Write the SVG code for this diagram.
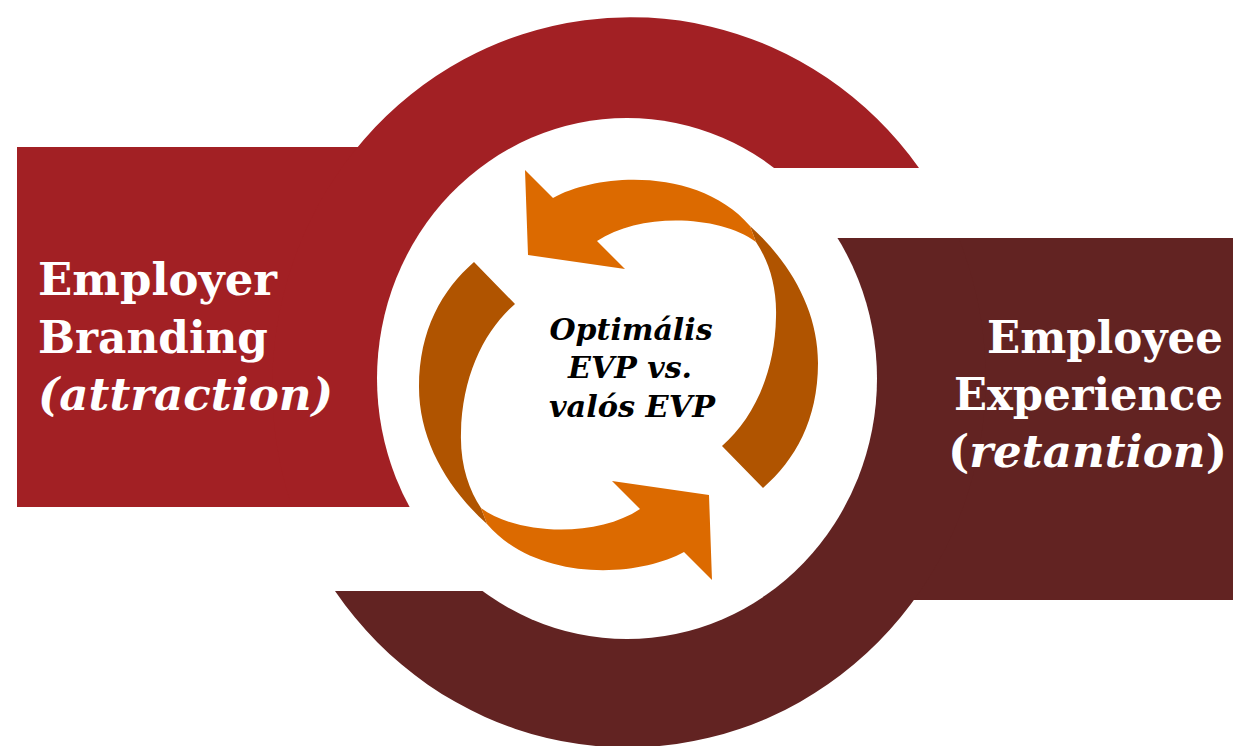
<svg xmlns="http://www.w3.org/2000/svg" width="1233" height="746" viewBox="0 0 1233 746">
<style>
.red{fill:#A22024}
.dark{fill:#622322}
.lbl{font-family:"DejaVu Serif","Liberation Serif",serif;font-weight:bold;fill:#ffffff;font-size:45px}
.ctr{font-family:"DejaVu Serif","Liberation Serif",serif;font-weight:bold;font-style:italic;fill:#000000;font-size:30px}
.it{font-style:italic}
.light{fill:#DC6A00}
.shade{fill:#B05400}
</style>
<defs>
<g id="arrow">
<path class="shade" d="M750,226 C790,262 818,310 818,363 C818,420 795,460 763,488 L722,446 C752,420 775,375 776,317 C777,285 768,260 756,242 Z"/>
<path class="light" d="M553,198 C600,172 700,168 750,226 L756,242 C720,215 640,212 597,241 L625,269 L528,255 L525,170 Z"/>
</g>
</defs>
<rect width="1233" height="746" fill="#ffffff"/>
<g id="node-branding">
<rect class="red" x="17" y="147" width="403" height="360"/>
<path class="red" d="M292,507 A358,369 0 0 1 919,168 L627,168 L627,507 Z"/>
</g>
<g id="node-experience">
<rect class="dark" x="830" y="238" width="403" height="362"/>
<path class="dark" d="M335,591 A358,369 0 0 0 958.7,238 L627,238 L627,591 Z"/>
</g>
<g id="node-center">
<ellipse cx="627" cy="378.5" rx="250" ry="260.5" fill="#ffffff"/>
</g>
<g id="connectors">
<use href="#arrow"/>
<use href="#arrow" transform="rotate(180 618.5 375)"/>
</g>
<g id="labels">
<text class="lbl" x="38" y="295" textLength="239" lengthAdjust="spacingAndGlyphs">Employer</text>
<text class="lbl" x="38" y="353" textLength="230" lengthAdjust="spacingAndGlyphs">Branding</text>
<text class="lbl it" x="38" y="410" textLength="295" lengthAdjust="spacingAndGlyphs">(attraction)</text>
<text class="lbl" x="1223" y="353" text-anchor="end" textLength="236" lengthAdjust="spacingAndGlyphs">Employee</text>
<text class="lbl" x="1223" y="410" text-anchor="end" textLength="269" lengthAdjust="spacingAndGlyphs">Experience</text>
<text class="lbl" x="1227" y="467" text-anchor="end" textLength="279" lengthAdjust="spacingAndGlyphs">(<tspan class="it">retantion</tspan>)</text>
<text class="ctr" x="631" y="340" text-anchor="middle" textLength="163" lengthAdjust="spacingAndGlyphs">Optimális</text>
<text class="ctr" x="630" y="378" text-anchor="middle" textLength="124" lengthAdjust="spacingAndGlyphs">EVP vs.</text>
<text class="ctr" x="632" y="417" text-anchor="middle" textLength="166" lengthAdjust="spacingAndGlyphs">valós EVP</text>
</g>
</svg>
